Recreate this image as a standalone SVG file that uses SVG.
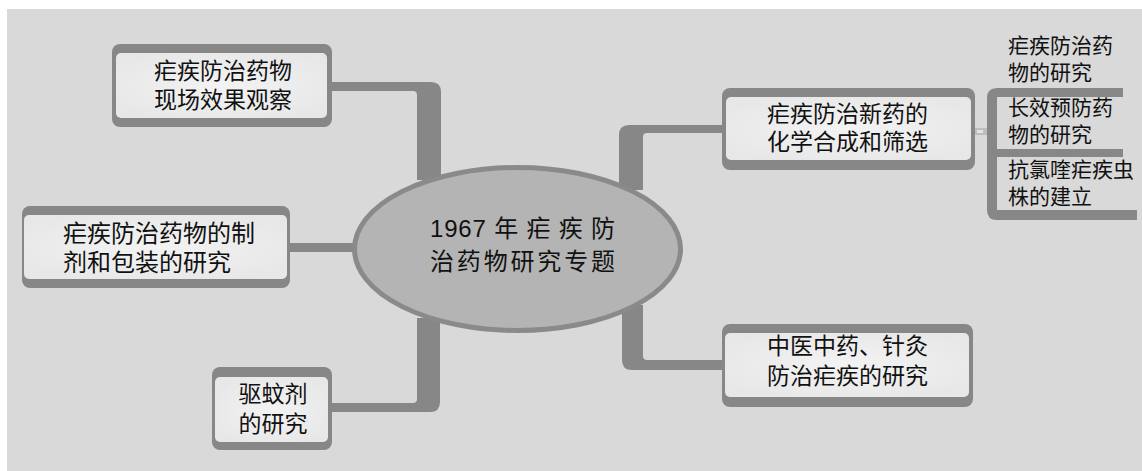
<svg xmlns="http://www.w3.org/2000/svg" width="1142" height="471" viewBox="0 0 1142 471">
<defs>
<radialGradient id="boxg" cx="50%" cy="50%" r="60%">
<stop offset="0" stop-color="#f3f3f3"/>
<stop offset="1" stop-color="#e7e7e7"/>
</radialGradient>
<style>
.frame{fill:#878787}
.inner{fill:url(#boxg)}
.conn{fill:#878787}
.t{font-family:"Liberation Sans","Noto Sans CJK SC",sans-serif;fill:#111}
.m{font-size:23px;text-anchor:middle}
.s{font-size:21px}
</style>
</defs>
<rect x="7" y="9" width="1135" height="462" fill="#d9d9d9"/>
<g id="connectors">
<path class="conn" d="M332,82 H431 Q441,82 441,92 V180 H417 V95 Q417,91 413,91 H332 Z"/>
<rect class="conn" x="288" y="243" width="70" height="9"/>
<path class="conn" d="M332,403 H413 Q417,403 417,399 V318 H440 V402 Q440,412 430,412 H332 Z"/>
<path class="conn" d="M723,125 H629 Q619,125 619,135 V190 H643 V137 Q643,133 647,133 H723 Z"/>
<path class="conn" d="M622,305 V360 Q622,370 632,370 H723 V360 H647 Q643,360 643,356 V305 Z"/>
<rect x="973" y="128" width="15" height="7" fill="#bdbdbd"/>
<rect x="977" y="130" width="6" height="3" fill="#e4e4e4"/>
<path class="conn" d="M1123,88 H997 Q987,88 987,98 V210 Q987,220 997,220 H1137 V210 H997 V97 H1123 Z"/>
<rect class="conn" x="995" y="149" width="128" height="8"/>
</g>
<g id="center">
<ellipse cx="517.5" cy="249" rx="163" ry="81.5" fill="#b4b4b4" stroke="#8a8a8a" stroke-width="5"/>
<text class="t" font-size="24"><tspan x="430" y="237" textLength="185" lengthAdjust="spacing">1967 年 疟 疾 防</tspan><tspan x="430" y="270" textLength="185" lengthAdjust="spacing">治药物研究专题</tspan></text>
</g>
<g id="n1">
<rect class="frame" x="112" y="44" width="220" height="83" rx="8"/>
<rect class="inner" x="116" y="53" width="211" height="65" rx="5"/>
<text class="t m"><tspan x="223" y="79">疟疾防治药物</tspan><tspan x="223" y="108">现场效果观察</tspan></text>
</g>
<g id="n2">
<rect class="frame" x="22" y="206" width="268" height="82" rx="8"/>
<rect class="inner" x="24" y="215" width="263" height="64" rx="5"/>
<text class="t" font-size="24"><tspan x="63" y="242">疟疾防治药物的制</tspan><tspan x="63" y="271">剂和包装的研究</tspan></text>
</g>
<g id="n3">
<rect class="frame" x="212" y="367" width="120" height="83" rx="8"/>
<rect class="inner" x="215" y="377" width="113" height="65" rx="5"/>
<text class="t m"><tspan x="273" y="402">驱蚊剂</tspan><tspan x="273" y="432">的研究</tspan></text>
</g>
<g id="n4">
<rect class="frame" x="722" y="88" width="253" height="82" rx="8"/>
<rect class="inner" x="726" y="97" width="245" height="63" rx="5"/>
<text class="t m" font-size="23.5"><tspan x="847.5" y="122">疟疾防治新药的</tspan><tspan x="847.5" y="150">化学合成和筛选</tspan></text>
</g>
<g id="n5">
<rect class="frame" x="722" y="324" width="251" height="83" rx="8"/>
<rect class="inner" x="725" y="333" width="244" height="64" rx="5"/>
<text class="t m" font-size="23.5"><tspan x="847.5" y="354">中医中药、针灸</tspan><tspan x="847.5" y="384">防治疟疾的研究</tspan></text>
</g>
<g id="sub1">
<text class="t s"><tspan x="1008" y="53">疟疾防治药</tspan><tspan x="1008" y="80">物的研究</tspan></text>
</g>
<g id="sub2">
<text class="t s"><tspan x="1008" y="115">长效预防药</tspan><tspan x="1008" y="142">物的研究</tspan></text>
</g>
<g id="sub3">
<text class="t s"><tspan x="1008" y="177">抗氯喹疟疾虫</tspan><tspan x="1008" y="204">株的建立</tspan></text>
</g>
</svg>
